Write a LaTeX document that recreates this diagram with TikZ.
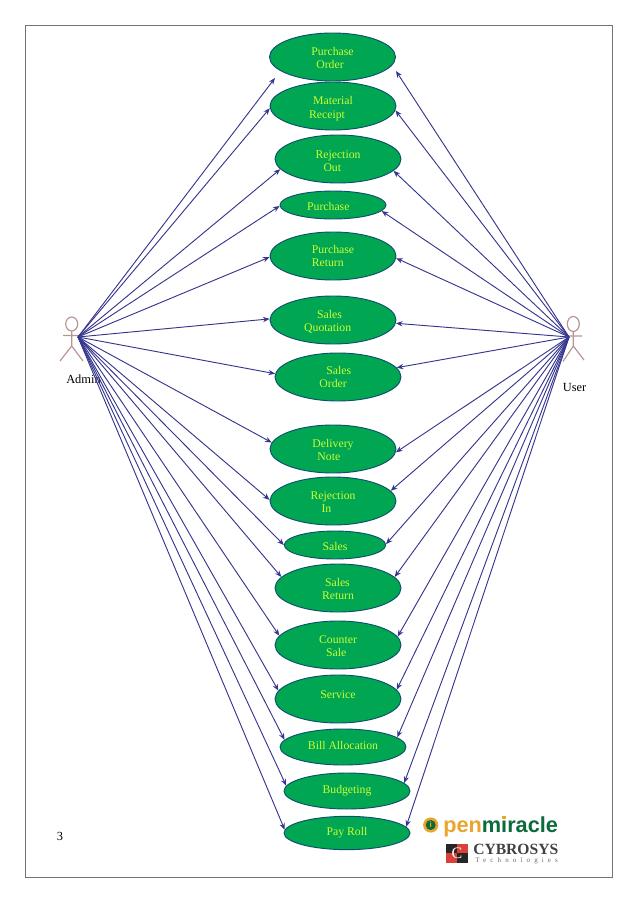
\documentclass[tikz,border=0pt]{standalone}
\usepackage{fontspec}
\setmainfont{Liberation Serif}
\newfontfamily\logofont{Liberation Sans}
\usetikzlibrary{shapes.geometric,arrows.meta}
\definecolor{ucgreen}{HTML}{00A651}
\definecolor{ucline}{HTML}{0F4F6E}
\definecolor{uctext}{HTML}{CCFF33}
\definecolor{assoc}{HTML}{36368F}
\definecolor{actorcol}{HTML}{B89595}
\definecolor{logoorange}{HTML}{E9A52E}
\definecolor{logogreen}{HTML}{0B6B3A}
\definecolor{logored}{HTML}{D9403A}
\newcommand{\tdown}[1]{\rule{0pt}{\dimexpr 6pt+2\dimexpr #1\relax\relax}}
\tikzset{
	usecase/.style={ellipse,draw=ucline,line width=0.7pt,fill=ucgreen,inner sep=0pt,text=uctext,align=left,
		font=\fontsize{8.8}{10.2}\selectfont},
	usecase wide/.style={usecase,minimum width=94.5pt,minimum height=36pt},
	assocline/.style={draw=assoc,line width=0.7pt,-{Stealth[length=5pt,width=4pt]}},
	actorline/.style={draw=actorcol,line width=0.9pt},
	actorname/.style={font=\fontsize{9.3}{11}\selectfont}
}
\begin{document}
\begin{tikzpicture}[x=0.75pt,y=-0.75pt]
	\useasboundingbox (0,0) rectangle (638,903);
	\draw[gray!90!black,semithick] (25,25) rectangle (612,877);
	\node[usecase wide] (po) at (332.5,57) {\tdown{0.75pt}Purchase\\\hspace*{3.75pt}Order};
	\node[usecase wide] (mr) at (333,106) {\tdown{1.9pt}\hspace*{3pt}Material\hspace*{3pt}\\Receipt};
	\node[usecase wide] (ro) at (338,159) {\tdown{1.5pt}Rejection\\\hspace*{6pt}Out};
	\node[usecase,minimum width=79.5pt,minimum height=21pt] (pu) at (333,205) {\tdown{1.5pt}Purchase\hspace*{7pt}};
	\node[usecase wide] (pr) at (333,256) {Purchase\\Return\hspace*{1pt}};
	\node[usecase wide] (sq) at (333,320) {\tdown{1.5pt}\hspace*{9.75pt}Sales\\Quotation\hspace*{8pt}};
	\node[usecase wide] (so) at (338,377) {\hspace*{5.25pt}Sales\hspace*{4pt}\\Order};
	\node[usecase wide] (dn) at (333,449) {\tdown{0.75pt}Delivery\\\hspace*{3.75pt}Note};
	\node[usecase wide] (ri) at (333,501) {\tdown{0.75pt}Rejection\\\hspace*{8.25pt}In};
	\node[usecase,minimum width=76pt,minimum height=21pt] (sa) at (335,545) {\tdown{1.5pt}Sales};
	\node[usecase wide] (sr) at (338,588) {\tdown{0.75pt}\hspace*{2.25pt}Sales\\Return};
	\node[usecase wide] (cs) at (338,645) {\tdown{0.75pt}Counter\\\hspace*{5.25pt}Sale};
	\node[usecase wide] (sv) at (338,699) {\raisebox{6pt}{Service}};
	\node[usecase,minimum width=94.5pt,minimum height=27pt] (ba) at (343,747) {\raisebox{2.5pt}{Bill Allocation}};
	\node[usecase,minimum width=94.5pt,minimum height=27pt] (bu) at (347,791) {Budgeting};
	\node[usecase,minimum width=94.5pt,minimum height=25pt] (pa) at (347,833) {Pay Roll};
	% actors
	\draw[actorline] (71.7,324) ellipse (6 and 7);
	\draw[actorline] (71.7,331) -- (71.7,346) (63,335.5) -- (80,335.5) (60,361) -- (71.7,346) -- (83,361);
	\draw[actorline] (573.3,324) ellipse (6 and 7.5);
	\draw[actorline] (573.3,331.5) -- (573.3,346) (565,336) -- (582,336) (563,361.5) -- (573.3,346) -- (584,360);
	\node[actorname] (adminname) at (83.5,379) {Admin};
	\node[actorname] (username) at (574.5,387) {User};
	\coordinate (admin) at (78,337);
	\coordinate (user) at (569,337);
	\coordinate (poleft) at (275,78);
	\coordinate (poright) at (396,71);
	\foreach \t in {poleft,mr.182,ro.190,pu.181,pr.181,sq.179,so.177,dn.174,ri.179,sa.180,sr.169,cs.171,sv.172,ba.173,bu.175,pa.177}
	\draw[assocline] (admin) -- (\t);
	\foreach \t in {poright,mr.356,ro.348,pu.353,pr.358,sq.357,so.9,dn.357,ri.10,sa.1,sr.11,cs.8,sv.9,ba.10,bu.8,pa.6}
	\draw[assocline] (user) -- (\t);
	\node[font=\fontsize{9.3}{11}\selectfont] (pagenum) at (60,836) {3};
	% logos
	\fill[logoorange] (430.7,825) circle (7.6);
	\node[circle,fill=logogreen,inner sep=0pt,minimum size=7.5pt,text=logoorange,font=\logofont\bfseries\fontsize{6}{6}\selectfont] (logoicon) at (430.7,825) {i};
	\node[anchor=base west,inner sep=0pt,font=\logofont\bfseries\fontsize{16.3}{18}\selectfont] (openmiracle) at (443,832)
		{\textcolor{logoorange}{pen}\textcolor{logogreen}{miracle}};
	\fill[logoorange] (502.3,815.6) rectangle (505.8,818.8);
	\fill[black!85] (446,844) rectangle (457,853);
	\fill[logored] (457,844) rectangle (467.7,853);
	\fill[logored] (446,853) rectangle (457,862.7);
	\fill[black!85] (457,853) rectangle (467.7,862.7);
	\node[text=white,inner sep=0pt,font=\fontsize{12}{12}\selectfont] (cybicon) at (457,853.5) {C};
	\node[anchor=base west,inner sep=0pt,text=black!75,font=\bfseries\fontsize{11.7}{12}\selectfont] (cybrosys) at (473,854.5) {CYBROSYS};
	\node[anchor=base west,inner sep=0pt,text=black!60,font=\addfontfeature{LetterSpace=60}\fontsize{5.2}{5.2}\selectfont] (technologies) at (475,862.7) {Technologies};
\end{tikzpicture}
\end{document}
